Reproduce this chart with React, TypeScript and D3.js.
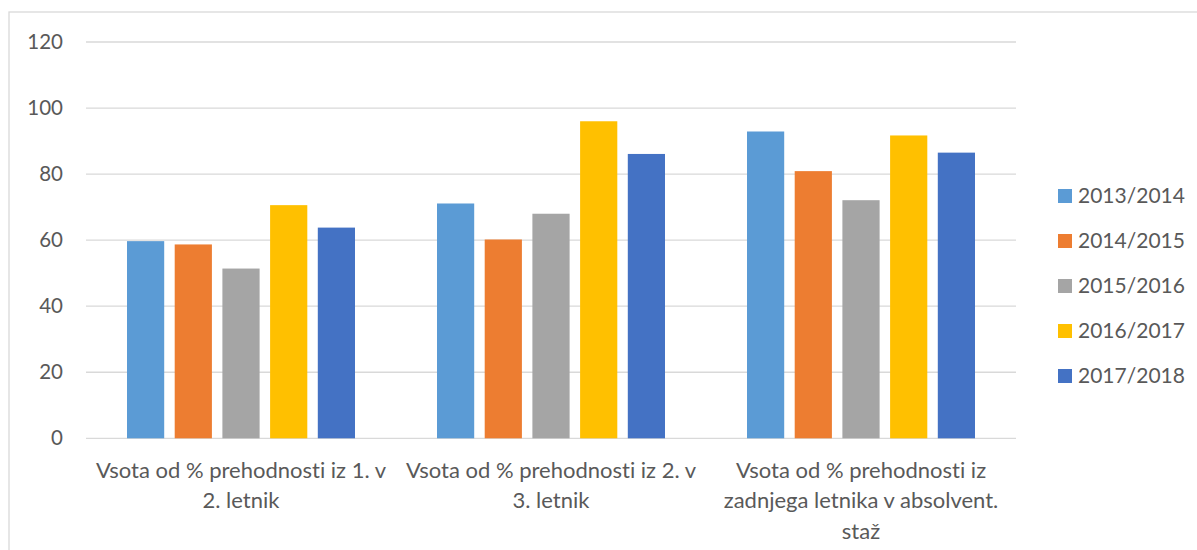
import React from "react";
import * as d3 from "d3";

const categories = [
  "Vsota od % prehodnosti iz 1. v\n2. letnik",
  "Vsota od % prehodnosti iz 2. v\n3. letnik",
  "Vsota od % prehodnosti iz\nzadnjega letnika v absolvent.\nstaž",
];
const seriesNames = ["2013/2014", "2014/2015", "2015/2016", "2016/2017", "2017/2018"];
const seriesColors = ["#5B9BD5", "#ED7D31", "#A5A5A5", "#FFC000", "#4472C4"];
const s2013 = [59.7, 71.1, 92.9];
const s2014 = [58.7, 60.2, 80.9];
const s2015 = [51.4, 68.0, 72.1];
const s2016 = [70.6, 96.0, 91.7];
const s2017 = [63.8, 86.1, 86.5];
const seriesValues = [s2013, s2014, s2015, s2016, s2017];
const yTicks = [0, 20, 40, 60, 80, 100, 120];

const W = 1197;
const H = 550;
const plot = { left: 86, right: 1016, top: 42, bottom: 438.3 };
const FONT = "Lato, 'Open Sans', sans-serif";
const TEXT = "#595959";

export default function App() {
  const x0 = d3.scaleBand<number>().domain(d3.range(categories.length)).range([plot.left, plot.right]).padding(0);
  const groupPad = 41;
  const x1 = d3
    .scaleBand<number>()
    .domain(d3.range(seriesNames.length))
    .range([groupPad, x0.bandwidth() - groupPad])
    .paddingInner(0.22)
    .paddingOuter(0);
  const y = d3.scaleLinear().domain([0, 120]).range([plot.bottom, plot.top]);

  return (
    <svg
      width={W}
      height={H}
      style={{ position: "absolute", left: 0, top: 0, background: "#fff", fontVariantLigatures: "none" }}
      fontFamily={FONT}
    >
      <rect x={9} y={12} width={W} height={H} fill="#fff" stroke="#d9d9d9" strokeWidth={1.3} />
      {yTicks.map((t) => (
        <g key={t}>
          <line x1={plot.left} x2={plot.right} y1={y(t)} y2={y(t)} stroke="#d9d9d9" strokeWidth={1.3} />
          <text x={63} y={y(t)} dy="0.35em" textAnchor="end" fontSize={20.5} fill={TEXT}>
            {t}
          </text>
        </g>
      ))}
      {categories.map((c, ci) => (
        <g key={ci} transform={`translate(${x0(ci)},0)`}>
          {seriesValues.map((vals, si) => (
            <rect
              key={si}
              x={x1(si)}
              y={y(vals[ci])}
              width={x1.bandwidth()}
              height={y(0) - y(vals[ci])}
              fill={seriesColors[si]}
            />
          ))}
          {c.split("\n").map((line, li) => (
            <text
              key={li}
              x={x0.bandwidth() / 2}
              y={470 + li * 30.5}
              dy="0.35em"
              textAnchor="middle"
              fontSize={22}
              fill={TEXT}
            >
              {line}
            </text>
          ))}
        </g>
      ))}
      {seriesNames.map((s, i) => (
        <g key={s} transform={`translate(1058,${196 + i * 45})`}>
          <rect x={0} y={-7} width={14} height={14} fill={seriesColors[i]} />
          <text x={20} y={0} dy="0.35em" fontSize={21} fill={TEXT}>
            {s}
          </text>
        </g>
      ))}
    </svg>
  );
}
